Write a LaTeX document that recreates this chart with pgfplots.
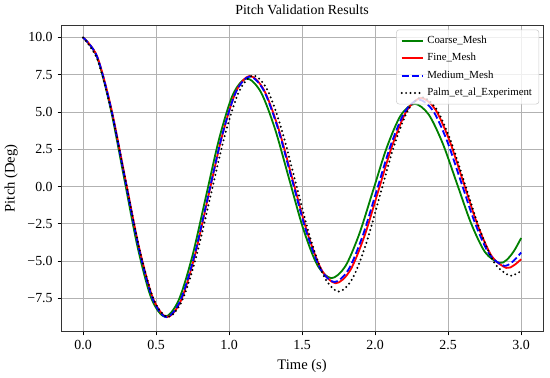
\documentclass[border=0pt]{standalone}
\usepackage{fontspec}
\setmainfont{Liberation Serif}
\usepackage{pgfplots}
\pgfplotsset{compat=1.18}
\definecolor{mplgreen}{RGB}{0,128,0}
\definecolor{mplred}{RGB}{255,0,0}
\definecolor{mplblue}{RGB}{0,0,255}
\begin{document}
\begin{tikzpicture}
\begin{axis}[
  scale only axis, width=347pt, height=221pt,
  xmin=-0.15, xmax=3.15, ymin=-9.74, ymax=10.84,
  xtick={0,0.5,1,1.5,2,2.5,3},
  xticklabels={0.0,0.5,1.0,1.5,2.0,2.5,3.0},
  ytick={-7.5,-5,-2.5,0,2.5,5,7.5,10},
  yticklabels={−7.5,−5.0,−2.5,0.0,2.5,5.0,7.5,10.0},
  grid=major, grid style={color=black!30, line width=0.6pt},
  tick align=outside, tick pos=left, major tick length=2.6pt,
  tick style={black, line width=0.6pt},
  axis line style={line width=0.6pt, black!80},
  ticklabel style={font=\fontsize{10}{12}\selectfont},
  title={Pitch Validation Results},
  title style={font=\fontsize{10}{12}\selectfont, yshift=-2pt},
  xlabel={Time (s)}, ylabel={Pitch (Deg)},
  label style={font=\fontsize{10.5}{12}\selectfont},
  legend cell align=left,
  legend style={at={(0.992,0.985)}, anchor=north east,
    font=\fontsize{7.8}{9}\selectfont, draw=black!20, rounded corners=2pt,
    fill=white, fill opacity=0.8, text opacity=1, row sep=1.6pt,
    inner xsep=3pt, inner ysep=2.5pt},
  legend image code/.code={\draw[#1] (0cm,0cm) -- (0.55cm,0cm);},
]
\addplot[mplgreen, smooth, line width=1.3pt] coordinates {
(0,10) (0.0933,8.746) (0.1867,5.32) (0.28,0.64) (0.3733,-4.04) (0.4667,-7.466) (0.56,-8.72)
(0.6533,-7.65) (0.7467,-4.7275) (0.84,-0.735) (0.9333,3.2575) (1.0267,6.18) (1.12,7.25)
(1.2167,6.353) (1.3133,3.9025) (1.41,0.555) (1.5067,-2.7925) (1.6033,-5.243) (1.70,-6.14)
(1.795,-5.357) (1.89,-3.2175) (1.985,-0.295) (2.08,2.6275) (2.175,4.767) (2.27,5.55)
(2.3667,4.835) (2.4633,2.8825) (2.56,0.215) (2.6567,-2.4525) (2.7533,-4.405) (2.85,-5.12)
(2.9,-4.92) (2.95,-4.33) (3.0,-3.45)
};
\addlegendentry{Coarse\_Mesh}
\addplot[mplred, smooth, line width=1.3pt] coordinates {
(0,10) (0.0958,8.744) (0.1917,5.3125) (0.2875,0.625) (0.3833,-4.0625) (0.4792,-7.494) (0.575,-8.75)
(0.6692,-7.667) (0.7633,-4.7075) (0.8575,-0.665) (0.9517,3.3775) (1.0458,6.337) (1.14,7.42)
(1.2383,6.489) (1.3367,3.945) (1.435,0.47) (1.5333,-3.005) (1.6317,-5.549) (1.73,-6.48)
(1.8275,-5.648) (1.925,-3.375) (2.0225,-0.27) (2.12,2.835) (2.2175,5.108) (2.315,5.94)
(2.412,5.177) (2.509,3.0925) (2.606,0.245) (2.703,-2.6025) (2.8,-4.687) (2.897,-5.45)
(2.95,-5.28) (3.0,-4.87)
};
\addlegendentry{Fine\_Mesh}
\addplot[mplblue, smooth, line width=1.3pt, dash pattern=on 5pt off 2.2pt] coordinates {
(0,10) (0.095,8.744) (0.19,5.3125) (0.285,0.625) (0.38,-4.0625) (0.475,-7.494) (0.57,-8.75)
(0.665,-7.669) (0.76,-4.7175) (0.855,-0.685) (0.95,3.3475) (1.045,6.299) (1.14,7.38)
(1.2367,6.457) (1.3333,3.935) (1.43,0.49) (1.5267,-2.955) (1.6233,-5.477) (1.72,-6.4)
(1.8167,-5.581) (1.9133,-3.3425) (2.01,-0.285) (2.1067,2.7725) (2.2033,5.011) (2.30,5.83)
(2.3967,5.084) (2.4933,3.0475) (2.59,0.265) (2.6867,-2.5175) (2.7833,-4.554) (2.88,-5.3)
(2.94,-5.05) (3.0,-4.42)
};
\addlegendentry{Medium\_Mesh}
\addplot[black, smooth, line cap=round, dash pattern=on 0pt off 3.2pt, line width=1.6pt] coordinates {
(0,10) (0.0967,8.55) (0.1933,5.1) (0.29,0.45) (0.3867,-4.2) (0.4833,-7.55) (0.58,-8.75)
(0.6775,-7.665) (0.775,-4.7) (0.8725,-0.65) (0.97,3.4) (1.0675,6.365) (1.165,7.45)
(1.2625,6.479) (1.36,3.8275) (1.4575,0.205) (1.555,-3.4175) (1.6525,-6.069) (1.75,-7.04)
(1.845,-6.166) (1.94,-3.78) (2.035,-0.52) (2.13,2.74) (2.225,5.126) (2.32,6.0)
(2.42,5.198) (2.52,3.0075) (2.62,0.015) (2.72,-2.9775) (2.82,-5.168) (2.92,-5.97)
(2.96,-5.88) (3.0,-5.66)
};
\addlegendentry{Palm\_et\_al\_Experiment}
\end{axis}
\path (current axis.north east) ++(5pt,0pt);
\end{tikzpicture}
\end{document}
